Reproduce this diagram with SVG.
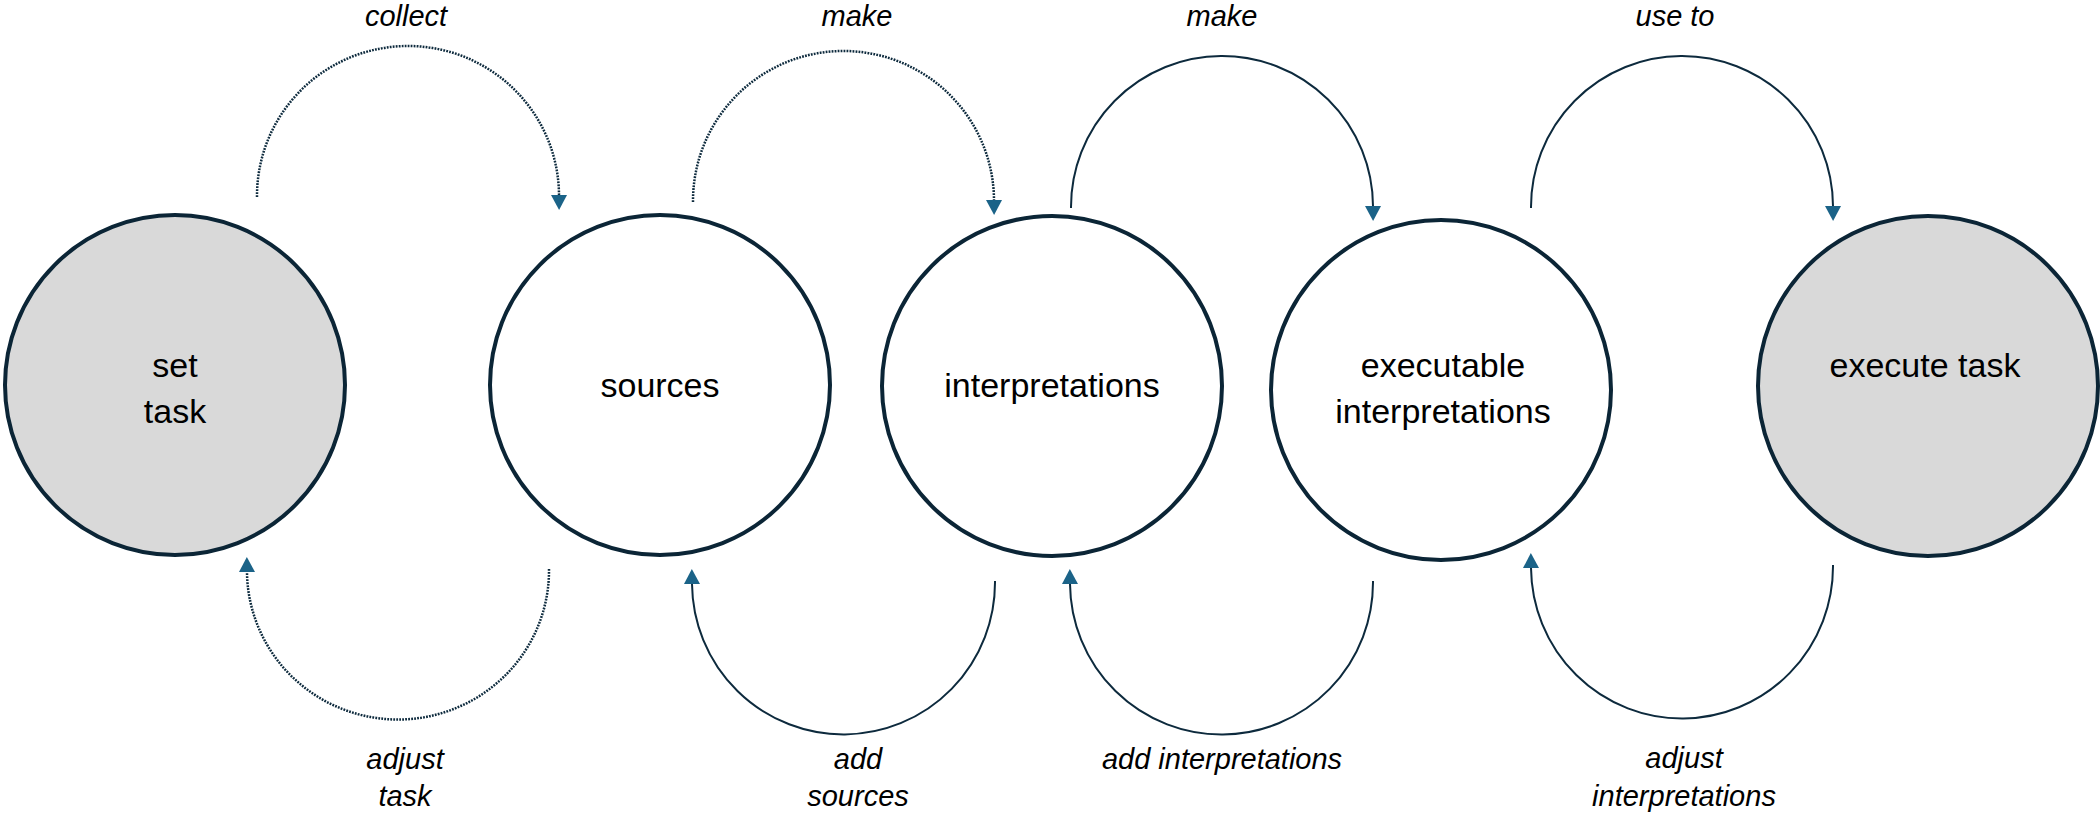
<svg xmlns="http://www.w3.org/2000/svg" width="2100" height="815" viewBox="0 0 2100 815">
<style>
.node{stroke:#0b2536;stroke-width:4;}
.gray{fill:#d9d9d9;}
.white{fill:#ffffff;}
.nt{font-family:"Liberation Sans",Arial,sans-serif;font-size:34px;fill:#000;text-anchor:middle;}
.lt{font-family:"Liberation Sans",Arial,sans-serif;font-size:29px;font-style:italic;fill:#000;text-anchor:middle;}
.arc{fill:none;stroke:#0d2a3d;stroke-width:2;marker-end:url(#ah);}
.dot{stroke-width:2.5;stroke-dasharray:1.8 1.2;}
</style>
<defs>
<marker id="ah" markerUnits="userSpaceOnUse" markerWidth="16" markerHeight="16" viewBox="0 0 15 16" refX="0" refY="8" orient="auto">
<path d="M0,0 L15,8 L0,16 z" fill="#1b6388"/>
</marker>
</defs>
<rect width="2100" height="815" fill="#ffffff"/>
<g id="connectors">
<path class="arc dot" d="M257,197 A151,150 0 0 1 559,195"/>
<path class="arc dot" d="M693,202 A150.5,150 0 0 1 994,200"/>
<path class="arc" d="M1071,208 A151,151 0 0 1 1373,206"/>
<path class="arc" d="M1531,208 A151,151 0 0 1 1833,206"/>
<path class="arc dot" d="M549,569 A151,149 0 0 1 247,572"/>
<path class="arc" d="M995,581 A151.5,152 0 0 1 692,584"/>
<path class="arc" d="M1373,581 A151.5,152 0 0 1 1070,584"/>
<path class="arc" d="M1833,565 A151,152 0 0 1 1531,568"/>
<text class="lt" x="406" y="26">collect</text>
<text class="lt" x="857" y="26">make</text>
<text class="lt" x="1222" y="26">make</text>
<text class="lt" x="1675" y="26">use to</text>
<text class="lt" x="405" y="769">adjust</text>
<text class="lt" x="405" y="806">task</text>
<text class="lt" x="858" y="769">add</text>
<text class="lt" x="858" y="806">sources</text>
<text class="lt" x="1222" y="769">add interpretations</text>
<text class="lt" x="1684" y="768">adjust</text>
<text class="lt" x="1684" y="806">interpretations</text>
</g>
<g id="node-set-task">
<circle class="node gray" cx="175" cy="385" r="170"/>
<text class="nt" x="175" y="377">set</text>
<text class="nt" x="175" y="423">task</text>
</g>
<g id="node-sources">
<circle class="node white" cx="660" cy="385" r="170"/>
<text class="nt" x="660" y="397">sources</text>
</g>
<g id="node-interpretations">
<circle class="node white" cx="1052" cy="386" r="170"/>
<text class="nt" x="1052" y="397">interpretations</text>
</g>
<g id="node-executable">
<circle class="node white" cx="1441" cy="390" r="170"/>
<text class="nt" x="1443" y="377">executable</text>
<text class="nt" x="1443" y="423">interpretations</text>
</g>
<g id="node-execute-task">
<circle class="node gray" cx="1928" cy="386" r="170"/>
<text class="nt" x="1925" y="377">execute task</text>
</g>
</svg>
